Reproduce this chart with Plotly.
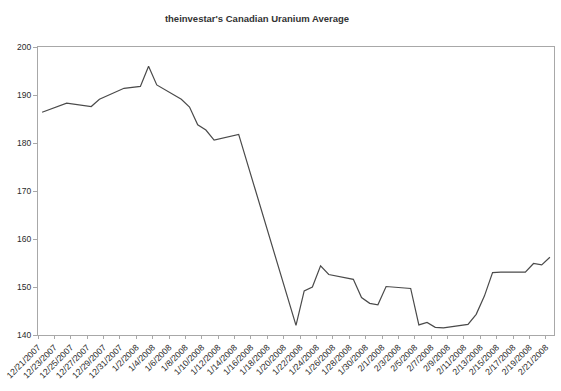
import pandas as pd
import plotly.graph_objects as go

# Data
dates = ["2007-12-21", "2007-12-24", "2007-12-27", "2007-12-28", "2007-12-31",
         "2008-01-02", "2008-01-03", "2008-01-04", "2008-01-07", "2008-01-08",
         "2008-01-09", "2008-01-10", "2008-01-11", "2008-01-14", "2008-01-21",
         "2008-01-22", "2008-01-23", "2008-01-24", "2008-01-25", "2008-01-28",
         "2008-01-29", "2008-01-30", "2008-01-31", "2008-02-01", "2008-02-04",
         "2008-02-05", "2008-02-06", "2008-02-07", "2008-02-08", "2008-02-11",
         "2008-02-12", "2008-02-13", "2008-02-14", "2008-02-15", "2008-02-18",
         "2008-02-19", "2008-02-20", "2008-02-21"]
average = [186.4, 188.3, 187.6, 189.1, 191.4,
           191.8, 196.0, 192.1, 189.1, 187.5,
           183.8, 182.7, 180.6, 181.8, 142.0,
           149.2, 150.0, 154.4, 152.6, 151.6,
           147.8, 146.6, 146.3, 150.1, 149.7,
           142.1, 142.6, 141.6, 141.5, 142.2,
           144.3, 148.1, 153.0, 153.1, 153.1,
           154.9, 154.6, 156.2]

tick_dates = pd.date_range("2007-12-21", "2008-02-21", freq="2D")
tick_labels = [f"{d.month}/{d.day}/{d.year}" for d in tick_dates]
y_ticks = [140, 150, 160, 170, 180, 190, 200]

half_day = pd.Timedelta(hours=12)

fig = go.Figure()
fig.add_trace(go.Scatter(
    x=pd.to_datetime(dates), y=average, mode="lines",
    line=dict(color="#4a4a4a", width=1.2),
    showlegend=False,
))

axis_col = "#a8a8a8"
fig.update_layout(
    width=561, height=391,
    margin=dict(l=38, r=7, t=47, b=56),
    paper_bgcolor="white", plot_bgcolor="white",
    font=dict(family="Arial, Liberation Sans, sans-serif", size=8, color="#333333"),
    title=dict(text="<b>theinvestar's Canadian Uranium Average</b>",
               x=257 / 561, xanchor="center", y=1 - 19 / 391, yanchor="middle",
               font=dict(size=9.5, color="#333333")),
)
fig.update_xaxes(
    type="date", automargin=False,
    range=[pd.Timestamp("2007-12-21") - half_day, pd.Timestamp("2008-02-21") + half_day],
    tickvals=list(tick_dates - half_day), ticktext=tick_labels,
    tickangle=-45, ticks="outside", ticklen=3, tickcolor=axis_col,
    showline=True, linecolor=axis_col, linewidth=1, mirror=True,
    showgrid=False, zeroline=False,
    tickfont=dict(size=8.7, color="#2a2a2a"),
)
fig.update_yaxes(
    range=[140, 200], tickvals=y_ticks, automargin=False,
    ticks="outside", ticklen=4, tickcolor=axis_col,
    showline=True, linecolor=axis_col, linewidth=1, mirror=True,
    showgrid=False, zeroline=False,
    tickfont=dict(size=8.5, color="#2a2a2a"),
)

fig.write_html("out.html",
               config={"displayModeBar": False},
               post_script="document.body.style.margin='0';document.body.style.overflow='hidden';")
